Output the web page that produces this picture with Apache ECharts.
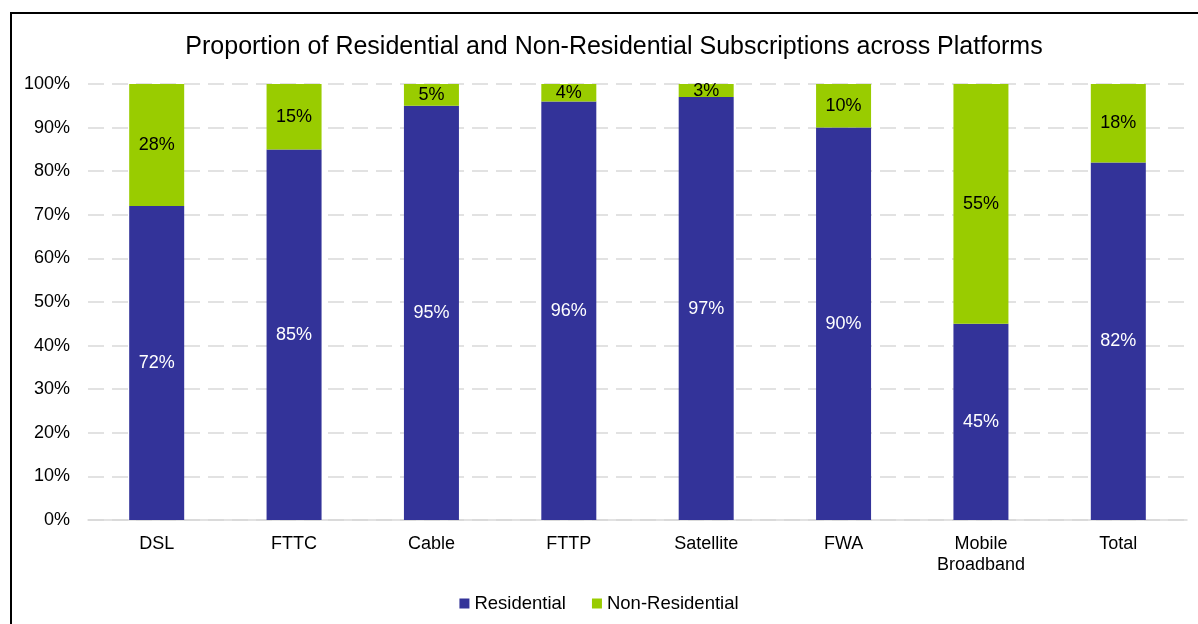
<!DOCTYPE html>
<html>
<head>
<meta charset="utf-8">
<script src="https://cdn.jsdelivr.net/npm/echarts@6/dist/echarts.min.js"></script>
<style>
  html, body { margin: 0; padding: 0; background: #fff; }
  #frame { position: absolute; left: 10px; top: 12px; width: 1200px; height: 620px;
           border-left: 2px solid #000; border-top: 2px solid #000; }
  #chart { position: absolute; left: 0; top: 0; width: 1198px; height: 624px; }
</style>
</head>
<body>
<div id="frame"></div>
<div id="chart"></div>
<script>
const categories = ['DSL', 'FTTC', 'Cable', 'FTTP', 'Satellite', 'FWA', 'Mobile\nBroadband', 'Total']
const residential = [72, 85, 95, 96, 97, 90, 45, 82]
const nonResidential = [28, 15, 5, 4, 3, 10, 55, 18]

const font = 'Arial, "Liberation Sans", sans-serif'
const chart = echarts.init(document.getElementById('chart'))

chart.setOption({
  color: ['#333399', '#99cc00'],
  textStyle: { fontFamily: font },
  title: {
    text: 'Proportion of Residential and Non-Residential Subscriptions across Platforms',
    left: 609,
    top: 30,
    textAlign: 'center',
    textStyle: { fontSize: 25, fontWeight: 'normal', color: '#000', fontFamily: font }
  },
  legend: {
    bottom: 6,
    left: 'center',
    itemWidth: 10,
    itemHeight: 10,
    itemGap: 26,
    icon: 'rect',
    textStyle: { fontSize: 18.5, color: '#000', fontFamily: font },
    data: ['Residential', 'Non-Residential']
  },
  grid: { left: 88, right: 11, top: 84, bottom: 104 },
  xAxis: {
    type: 'category',
    data: categories,
    axisTick: { show: false },
    axisLine: { lineStyle: { color: '#d9d9d9', width: 1.5 } },
    axisLabel: { fontSize: 18, color: '#000', margin: 14, lineHeight: 21, fontFamily: font }
  },
  yAxis: {
    type: 'value',
    min: 0,
    max: 100,
    interval: 10,
    axisLabel: { formatter: '{value}%', fontSize: 18, color: '#000', margin: 18, fontFamily: font },
    axisLine: { show: false },
    axisTick: { show: false },
    splitLine: { lineStyle: { color: '#d9d9d9', width: 1.5, type: [16, 8] } }
  },
  series: [
    {
      name: 'Residential',
      type: 'bar',
      stack: 'total',
      barWidth: 55,
      data: residential,
      label: { show: true, position: 'inside', formatter: '{c}%', color: '#fff', fontSize: 18, fontFamily: font }
    },
    {
      name: 'Non-Residential',
      type: 'bar',
      stack: 'total',
      barWidth: 55,
      data: nonResidential,
      label: { show: true, position: 'inside', formatter: '{c}%', color: '#000', fontSize: 18, fontFamily: font }
    }
  ]
})
</script>
</body>
</html>
